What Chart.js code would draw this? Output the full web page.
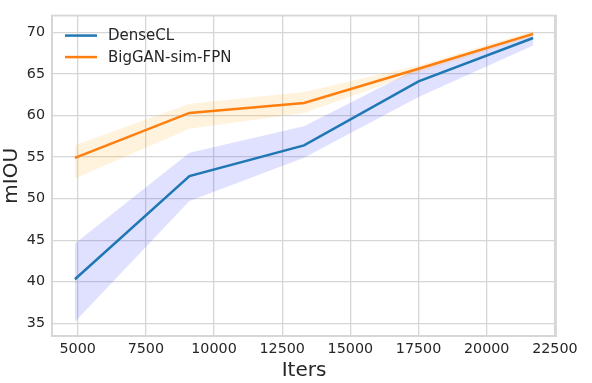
<!DOCTYPE html>
<html>
<head>
<meta charset="utf-8">
<script src="https://cdn.jsdelivr.net/npm/chart.js@4.4.0/dist/chart.umd.min.js"></script>
<style>
  html, body { margin: 0; padding: 0; background: #fff; }
  #wrap { width: 592px; height: 383px; }
</style>
</head>
<body>
<div id="wrap"><canvas id="mixed-chart" width="592" height="383"></canvas></div>
<script>
// iterations
var iters = [4900, 9100, 13300, 17500, 21700];

// DenseCL mean and band
var denseMean = [40.3, 52.7, 56.4, 64.1, 69.3];
var denseLow  = [35.2, 49.7, 54.9, 62.2, 68.4];
var denseHigh = [44.6, 55.5, 58.7, 65.7, 69.9];

// BigGAN-sim-FPN mean and band
var ganMean = [54.9, 60.3, 61.5, 65.6, 69.8];
var ganLow  = [52.4, 58.4, 60.3, 65.2, 69.5];
var ganHigh = [56.4, 61.4, 62.8, 66.0, 70.15];

var xTicks = [5000, 7500, 10000, 12500, 15000, 17500, 20000, 22500];
var yTicks = [35, 40, 45, 50, 55, 60, 65, 70];

function pts(ys) {
    return iters.map(function(x, i) { return { x: x, y: ys[i] }; });
}

var FONT = "'DejaVu Sans', sans-serif";
var TEXT = "#262626";
var GRID = "#d6d6d6";

var frame = {
    id: 'frame',
    afterDraw: function(chart) {
        var a = chart.chartArea, ctx = chart.ctx;
        ctx.save();
        ctx.strokeStyle = GRID;
        ctx.lineWidth = 1.8;
        ctx.strokeRect(a.left, a.top, a.right - a.left, a.bottom - a.top);

        // legend, top-left inside the plot
        var items = chart.data.datasets.filter(function(d) { return d.inLegend; });
        ctx.font = "15px " + FONT;
        ctx.textBaseline = 'middle';
        items.forEach(function(d, i) {
            var y = a.top + 20 + i * 21.5;
            ctx.strokeStyle = d.borderColor;
            ctx.lineWidth = 2.5;
            ctx.beginPath();
            ctx.moveTo(a.left + 13, y);
            ctx.lineTo(a.left + 45, y);
            ctx.stroke();
            ctx.fillStyle = TEXT;
            ctx.fillText(d.label, a.left + 56, y + 1);
        });
        ctx.restore();
    }
};

new Chart(document.getElementById("mixed-chart"),
{
    type: 'line',
    data:
    {
        datasets:
        [{
            label: "DenseCL",
            inLegend: true,
            data: pts(denseMean),
            borderColor: "#1f77b4",
            borderWidth: 2.5,
            pointRadius: 0,
            fill: false
        },
        {
            label: "BigGAN-sim-FPN",
            inLegend: true,
            data: pts(ganMean),
            borderColor: "#ff7f0e",
            borderWidth: 2.5,
            pointRadius: 0,
            fill: false
        },
        {
            label: "gan low",
            data: pts(ganLow),
            borderWidth: 0,
            borderColor: "rgba(0,0,0,0)",
            pointRadius: 0,
            fill: false
        },
        {
            label: "gan high",
            data: pts(ganHigh),
            borderWidth: 0,
            borderColor: "rgba(0,0,0,0)",
            backgroundColor: "rgba(255,165,0,0.13)",
            pointRadius: 0,
            fill: '-1'
        },
        {
            label: "dense low",
            data: pts(denseLow),
            borderWidth: 0,
            borderColor: "rgba(0,0,0,0)",
            pointRadius: 0,
            fill: false
        },
        {
            label: "dense high",
            data: pts(denseHigh),
            borderWidth: 0,
            borderColor: "rgba(0,0,0,0)",
            backgroundColor: "rgba(0,0,255,0.12)",
            pointRadius: 0,
            fill: '-1'
        }]
    },
    options:
    {
        responsive: false,
        animation: false,
        events: [],
        layout: { padding: { top: 7, right: 36, left: 0, bottom: 0 } },
        plugins:
        {
            legend: { display: false },
            tooltip: { enabled: false }
        },
        scales:
        {
            x:
            {
                type: 'linear',
                min: 4060,
                max: 22540,
                afterBuildTicks: function(s) { s.ticks = xTicks.map(function(v) { return { value: v }; }); },
                afterFit: function(s) { s.height = 47; },
                grid: { color: GRID, lineWidth: 1.3, drawTicks: false },
                border: { color: GRID, width: 1.8 },
                ticks: { color: TEXT, font: { family: FONT, size: 14.3 }, padding: 5, maxRotation: 0,
                         callback: function(v) { return String(v); } },
                title: { display: true, text: 'Iters', color: TEXT, font: { family: FONT, size: 20 }, padding: { top: 0, bottom: 0 } }
            },
            y:
            {
                min: 33.48,
                max: 72.0,
                afterBuildTicks: function(s) { s.ticks = yTicks.map(function(v) { return { value: v }; }); },
                afterFit: function(s) { s.width = 52; },
                grid: { color: GRID, lineWidth: 1.3, drawTicks: false },
                border: { color: GRID, width: 1.8 },
                ticks: { color: TEXT, font: { family: FONT, size: 14.3 }, padding: 7,
                         callback: function(v) { return String(v); } },
                title: { display: true, text: 'mIOU', color: TEXT, font: { family: FONT, size: 20 }, padding: { top: 0, bottom: 0 } }
            }
        }
    },
    plugins: [frame]
});
</script>
</body>
</html>
